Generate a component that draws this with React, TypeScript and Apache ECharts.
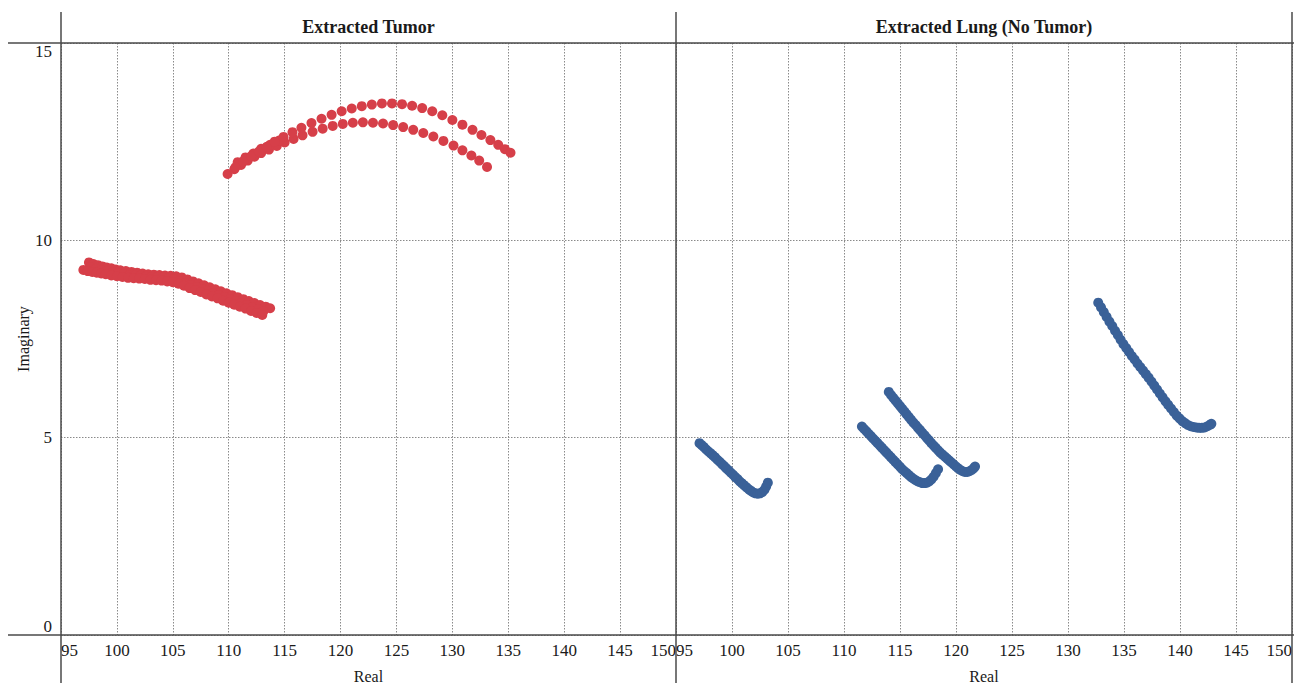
import React, { useEffect, useRef } from 'react';
import * as echarts from 'echarts';

const panelTitles = ['Extracted Tumor', 'Extracted Lung (No Tumor)'];
const xTitle = 'Real';
const yTitle = 'Imaginary';
const xMin = 95;
const xMax = 150;
const xStep = 5;
const yMin = 0;
const yMax = 15;
const yStep = 5;

const tumorColor = '#d63f49';
const lungColor = '#3a6198';

// Extracted Tumor traces
const tumorLowerA: [number, number][] = [
  [97.5, 9.44], [97.9, 9.4], [98.3, 9.37], [98.7, 9.34], [99.1, 9.31], [99.5, 9.29], [99.9, 9.26],
  [100.3, 9.24], [100.8, 9.22], [101.3, 9.2], [101.8, 9.18], [102.3, 9.16], [102.8, 9.14], [103.3, 9.13],
  [103.8, 9.12], [104.3, 9.11], [104.8, 9.1], [105.3, 9.09], [105.8, 9.06], [106.3, 9.01], [106.8, 8.96],
  [107.3, 8.91], [107.8, 8.86], [108.3, 8.81], [108.8, 8.76], [109.3, 8.71], [109.8, 8.66], [110.3, 8.61],
  [110.8, 8.56], [111.3, 8.51], [111.8, 8.46], [112.3, 8.41], [112.8, 8.36], [113.3, 8.32], [113.7, 8.28],
];
const tumorLowerB: [number, number][] = [
  [97.0, 9.25], [97.4, 9.22], [97.8, 9.2], [98.2, 9.18], [98.6, 9.16], [99.0, 9.14], [99.5, 9.11],
  [100.0, 9.09], [100.5, 9.07], [101.0, 9.05], [101.5, 9.04], [102.0, 9.03], [102.5, 9.02], [103.0, 9.0],
  [103.5, 8.99], [104.0, 8.98], [104.5, 8.96], [105.0, 8.94], [105.5, 8.9], [106.0, 8.85], [106.5, 8.79],
  [107.0, 8.74], [107.5, 8.69], [108.0, 8.63], [108.5, 8.58], [109.0, 8.53], [109.5, 8.47], [110.0, 8.42],
  [110.5, 8.37], [111.0, 8.32], [111.5, 8.27], [112.0, 8.21], [112.5, 8.16], [113.0, 8.11],
];
const tumorLowerC: [number, number][] = [
  [97.6, 9.32], [98.1, 9.28], [98.6, 9.25], [99.1, 9.22], [99.6, 9.19], [100.1, 9.16], [100.6, 9.14],
  [101.1, 9.12], [101.6, 9.11], [102.1, 9.1], [102.6, 9.08], [103.1, 9.07], [103.6, 9.06], [104.1, 9.05],
  [104.6, 9.03], [105.1, 9.01], [105.6, 8.97], [106.1, 8.92], [106.6, 8.87], [107.1, 8.82], [107.6, 8.77],
  [108.1, 8.72], [108.6, 8.66], [109.1, 8.61], [109.6, 8.56], [110.1, 8.51], [110.6, 8.46], [111.1, 8.41],
  [111.6, 8.36], [112.1, 8.3], [112.6, 8.25], [113.1, 8.2],
];
const tumorArcTop: [number, number][] = [
  [110.6, 11.85], [111.3, 12.0], [112.0, 12.13], [112.7, 12.25], [113.4, 12.37], [114.1, 12.5], [114.9, 12.62],
  [115.7, 12.74], [116.5, 12.85], [117.4, 12.97], [118.3, 13.08], [119.2, 13.18], [120.1, 13.27], [121.0, 13.34],
  [121.9, 13.4], [122.8, 13.44], [123.7, 13.47], [124.6, 13.47], [125.5, 13.45], [126.4, 13.41], [127.3, 13.35],
  [128.2, 13.27], [129.1, 13.17], [130.0, 13.05], [130.9, 12.93], [131.8, 12.8], [132.6, 12.67], [133.4, 12.54],
  [134.1, 12.42], [134.7, 12.31], [135.2, 12.22],
];
const tumorArcBottom: [number, number][] = [
  [109.9, 11.68], [110.5, 11.8], [111.1, 11.91], [111.7, 12.02], [112.3, 12.12], [112.9, 12.21], [113.6, 12.3],
  [114.3, 12.39], [115.0, 12.48], [115.8, 12.57], [116.6, 12.66], [117.5, 12.75], [118.4, 12.83], [119.3, 12.9],
  [120.2, 12.95], [121.1, 12.98], [122.0, 12.99], [122.9, 12.98], [123.8, 12.96], [124.7, 12.92], [125.6, 12.87],
  [126.5, 12.8], [127.4, 12.72], [128.3, 12.63], [129.2, 12.52], [130.1, 12.4], [130.9, 12.28], [131.7, 12.15],
  [132.4, 12.02], [133.1, 11.86],
];
const tumorArcStart: [number, number][] = [
  [110.8, 11.98], [111.5, 12.1], [112.2, 12.2], [112.9, 12.32], [113.7, 12.42], [114.5, 12.53],
];

// Extracted Lung (No Tumor) traces
const lungA: [number, number][] = [
  [97.1, 4.86], [97.3, 4.81], [97.5, 4.76], [97.7, 4.7], [97.9, 4.65], [98.1, 4.6], [98.3, 4.55], [98.5, 4.5],
  [98.7, 4.44], [98.9, 4.39], [99.1, 4.33], [99.3, 4.28], [99.5, 4.22], [99.7, 4.17], [99.9, 4.11], [100.1, 4.06],
  [100.3, 4.0], [100.5, 3.95], [100.7, 3.89], [100.9, 3.84], [101.1, 3.79], [101.3, 3.74], [101.5, 3.69],
  [101.7, 3.65], [101.9, 3.61], [102.1, 3.59], [102.3, 3.58], [102.5, 3.59], [102.7, 3.62], [102.9, 3.68],
  [103.05, 3.76], [103.2, 3.86],
];
const lungB: [number, number][] = [
  [111.6, 5.28], [111.8, 5.22], [112.0, 5.16], [112.2, 5.1], [112.4, 5.04], [112.6, 4.98], [112.8, 4.92],
  [113.0, 4.86], [113.2, 4.8], [113.4, 4.74], [113.6, 4.68], [113.8, 4.62], [114.0, 4.56], [114.2, 4.5],
  [114.4, 4.44], [114.6, 4.38], [114.8, 4.32], [115.0, 4.26], [115.2, 4.2], [115.4, 4.15], [115.6, 4.1],
  [115.8, 4.05], [116.0, 4.0], [116.2, 3.96], [116.4, 3.92], [116.6, 3.89], [116.8, 3.87], [117.0, 3.85],
  [117.2, 3.85], [117.4, 3.86], [117.6, 3.89], [117.8, 3.94], [118.0, 4.01], [118.2, 4.1], [118.4, 4.2],
];
const lungC: [number, number][] = [
  [114.0, 6.16], [114.2, 6.08], [114.4, 6.01], [114.6, 5.94], [114.8, 5.87], [115.0, 5.8], [115.2, 5.73],
  [115.4, 5.66], [115.6, 5.59], [115.8, 5.52], [116.0, 5.45], [116.2, 5.38], [116.4, 5.32], [116.6, 5.25],
  [116.8, 5.19], [117.0, 5.12], [117.2, 5.06], [117.4, 4.99], [117.6, 4.93], [117.8, 4.86], [118.0, 4.8],
  [118.2, 4.74], [118.4, 4.68], [118.6, 4.62], [118.8, 4.57], [119.0, 4.52], [119.2, 4.47], [119.4, 4.42],
  [119.6, 4.37], [119.8, 4.32], [120.0, 4.27], [120.2, 4.22], [120.4, 4.18], [120.6, 4.15], [120.8, 4.13],
  [121.0, 4.13], [121.2, 4.15], [121.4, 4.18], [121.6, 4.23], [121.7, 4.27],
];
const lungD: [number, number][] = [
  [132.7, 8.42], [132.95, 8.3], [133.2, 8.18], [133.45, 8.06], [133.7, 7.94], [133.95, 7.83], [134.2, 7.71],
  [134.45, 7.6], [134.7, 7.48], [134.95, 7.37], [135.2, 7.27], [135.45, 7.17], [135.7, 7.07], [135.95, 6.98],
  [136.2, 6.88], [136.45, 6.79], [136.7, 6.7], [136.95, 6.61], [137.2, 6.52], [137.45, 6.42], [137.7, 6.32],
  [137.95, 6.22], [138.2, 6.12], [138.45, 6.02], [138.7, 5.92], [138.95, 5.83], [139.2, 5.74], [139.45, 5.65],
  [139.7, 5.56], [139.95, 5.49], [140.2, 5.42], [140.45, 5.37], [140.7, 5.32], [140.95, 5.29], [141.2, 5.27],
  [141.45, 5.26], [141.7, 5.25], [141.95, 5.25], [142.2, 5.26], [142.45, 5.29], [142.7, 5.33], [142.8, 5.35],
];

const tumorTraces = [tumorLowerA, tumorLowerC, tumorLowerB, tumorArcBottom, tumorArcStart, tumorArcTop];
const lungTraces = [lungA, lungB, lungC, lungD];

const FONT = '"Liberation Serif", "Times New Roman", serif';
const TEXT = '#1a1a1a';
const BORDER = '#4a4a4a';

export default function App() {
  const ref = useRef<HTMLDivElement>(null);
  useEffect(() => {
    const chart = echarts.init(ref.current!, null, { renderer: 'svg' });
    const grids = [
      { left: 61, top: 43, width: 615, height: 592, containLabel: false, outerBoundsMode: 'none' },
      { left: 676, top: 43, width: 616, height: 592, containLabel: false, outerBoundsMode: 'none' },
    ];
    const labelFont = { fontFamily: FONT, fontSize: 17, color: TEXT };
    const xAxes = grids.map((_, i) => ({
      type: 'value',
      gridIndex: i,
      min: xMin,
      max: xMax,
      interval: xStep,
      name: xTitle,
      nameLocation: 'middle',
      nameGap: 33,
      nameTextStyle: { fontFamily: FONT, fontSize: 16, color: TEXT },
      axisLine: { show: false },
      axisTick: { show: false },
      axisLabel: {
        ...labelFont,
        margin: 7,
        alignMinLabel: 'left',
        alignMaxLabel: 'right',
        showMinLabel: true,
        showMaxLabel: true,
      },
      splitLine: { show: true, lineStyle: { color: '#8a8a8a', type: [1.5, 1.5], width: 1 } },
    }));
    const yAxes = grids.map((_, i) => ({
      type: 'value',
      gridIndex: i,
      min: yMin,
      max: yMax,
      interval: yStep,
      name: i === 0 ? yTitle : '',
      nameLocation: 'middle',
      nameGap: 30,
      nameRotate: 90,
      nameTextStyle: { fontFamily: FONT, fontSize: 16, color: TEXT },
      axisLine: { show: false },
      axisTick: { show: false },
      axisLabel: {
        show: i === 0,
        ...labelFont,
        margin: 9,
        formatter: (v: number) => (v === yMin ? `{lo|${v}}` : v === yMax ? `{hi|${v}}` : `${v}`),
        rich: {
          lo: { ...labelFont, padding: [0, 0, 18, 0] },
          hi: { ...labelFont, padding: [16, 0, 0, 0] },
        },
      },
      splitLine: { show: true, lineStyle: { color: '#8a8a8a', type: [1.5, 1.5], width: 1 } },
    }));
    const mk = (data: [number, number][], gi: number, color: string) => ({
      type: 'scatter',
      xAxisIndex: gi,
      yAxisIndex: gi,
      data,
      symbol: 'circle',
      symbolSize: 10,
      itemStyle: { color, opacity: 1 },
      silent: true,
    });
    const series = [
      ...tumorTraces.map((d) => mk(d, 0, tumorColor)),
      ...lungTraces.map((d) => mk(d, 1, lungColor)),
    ];
    const line = (x1: number, y1: number, x2: number, y2: number) => ({
      type: 'line',
      shape: { x1, y1, x2, y2 },
      style: { stroke: BORDER, lineWidth: 1.5 },
      z: 100,
      silent: true,
    });
    const graphic = [
      line(8, 43, 1294, 43),
      line(8, 635, 1294, 635),
      line(61, 12, 61, 683),
      line(676, 12, 676, 683),
      line(1292, 12, 1292, 683),
      ...panelTitles.map((t, i) => ({
        type: 'text',
        x: grids[i].left + grids[i].width / 2,
        y: 27,
        z: 100,
        style: {
          text: t,
          align: 'center',
          verticalAlign: 'middle',
          fontFamily: FONT,
          fontSize: 18,
          fontWeight: 'bold',
          fill: TEXT,
        },
      })),
    ];
    chart.setOption({
      animation: false,
      backgroundColor: '#ffffff',
      grid: grids,
      xAxis: xAxes,
      yAxis: yAxes,
      series,
      graphic,
    });
    return () => chart.dispose();
  }, []);
  return (
    <div
      ref={ref}
      style={{ position: 'fixed', left: 0, top: 0, width: 1294, height: 683, background: '#fff' }}
    />
  );
}
